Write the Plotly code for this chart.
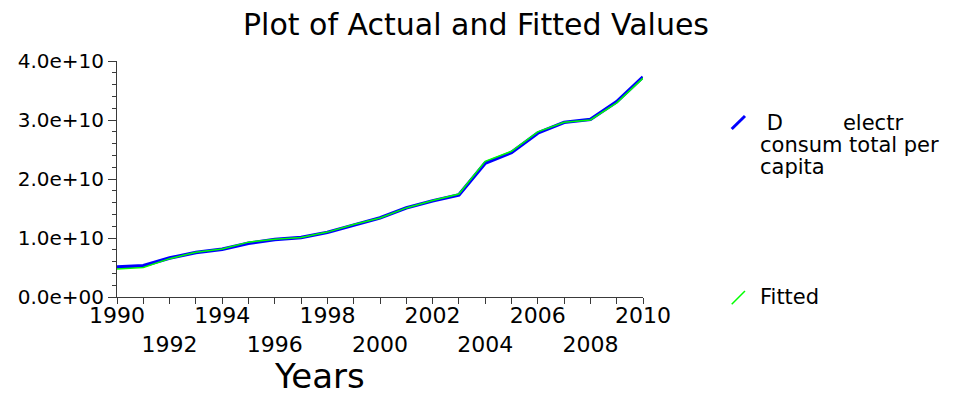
import plotly.graph_objects as go

# ---- data ----
years = list(range(1990, 2011))
actual = [0.51e10, 0.53e10, 0.66e10, 0.755e10, 0.81e10, 0.91e10, 0.975e10, 1.01e10, 1.095e10, 1.225e10,
          1.34e10, 1.51e10, 1.63e10, 1.73e10, 2.27e10, 2.45e10, 2.78e10, 2.96e10, 3.01e10, 3.31e10, 3.73e10]
fitted = [0.475e10, 0.50e10, 0.65e10, 0.76e10, 0.815e10, 0.93e10, 0.98e10, 1.01e10, 1.10e10, 1.23e10,
          1.34e10, 1.51e10, 1.635e10, 1.745e10, 2.30e10, 2.47e10, 2.80e10, 2.96e10, 3.00e10, 3.29e10, 3.71e10]
series_names = ["D electr consum total per capita", "Fitted"]
legend_lines = ["\u00a0D" + "\u00a0" * 9 + "electr", "consum total per", "capita"]
xtick_vals = list(range(1990, 2011, 2))
xtick_text = [str(y) if (y - 1990) % 4 == 0 else "<br>" + str(y) for y in xtick_vals]
ytick_vals = [0, 1e10, 2e10, 3e10, 4e10]
ytick_text = ["0.0e+00", "1.0e+10", "2.0e+10", "3.0e+10", "4.0e+10"]
colors = ["#0000ff", "#00ff00"]

# ---- layout geometry (page body has an 8px margin) ----
OFF = 8
W, H = 958 - OFF, 396 - OFF
ML, MR, MT, MB = 117 - OFF, 315, 61 - OFF, 99
PW, PH = W - ML - MR, H - MT - MB
FONT = "DejaVu Sans"
AX = "#3a3a3a"

def px(x):  # target-picture x pixel -> paper
    return (x - OFF - ML) / PW

def py(y):  # target-picture y pixel -> paper
    return (H - MB - (y - OFF)) / PH

fig = go.Figure()
fig.add_trace(go.Scatter(x=years, y=actual, mode="lines", name=series_names[0],
                         line=dict(color=colors[0], width=3.5), showlegend=False))
fig.add_trace(go.Scatter(x=years, y=fitted, mode="lines", name=series_names[1],
                         line=dict(color=colors[1], width=1.5), showlegend=False))

fig.update_layout(
    width=W, height=H,
    margin=dict(l=ML, r=MR, t=MT, b=MB, pad=0),
    paper_bgcolor="white", plot_bgcolor="white",
    font=dict(family=FONT, color="black"),
    title=dict(text="Plot of Actual and Fitted Values", x=(476 - OFF) / W, xanchor="center",
               y=1 - (24.6 - OFF) / H, yanchor="middle", yref="container", automargin=False,
               font=dict(family=FONT, size=30, color="black")),
    xaxis=dict(range=[1990, 2010], showgrid=False, zeroline=False, automargin=False,
               showline=True, linecolor=AX, linewidth=1,
               tickmode="array", tickvals=xtick_vals, ticktext=xtick_text, tickangle=0,
               ticks="outside", ticklen=6, tickcolor=AX, tickwidth=1, ticklabelstandoff=-7,
               minor=dict(tickmode="linear", tick0=1990, dtick=1, ticks="outside",
                          ticklen=6, tickcolor=AX, tickwidth=1),
               tickfont=dict(family=FONT, size=22, color="black")),
    yaxis=dict(range=[0, 4e10], showgrid=False, zeroline=False, automargin=False,
               showline=True, linecolor=AX, linewidth=1,
               tickmode="array", tickvals=ytick_vals, ticktext=ytick_text,
               ticks="outside", ticklen=8, tickcolor=AX, tickwidth=1,
               minor=dict(tickmode="linear", tick0=0, dtick=0.2e10, ticks="outside",
                          ticklen=4, tickcolor=AX, tickwidth=1),
               tickfont=dict(family=FONT, size=20, color="black")),
    xaxis2=dict(range=[1990, 2010], overlaying="x", anchor="y", side="bottom", automargin=False,
                showgrid=False, zeroline=False, showline=False, showticklabels=False,
                tickmode="linear", tick0=1990, dtick=1, ticks="inside", ticklen=6,
                tickcolor=AX, tickwidth=1),
    yaxis2=dict(range=[0, 4e10], overlaying="y", anchor="x", side="left", automargin=False,
                showgrid=False, zeroline=False, showline=False, showticklabels=False,
                tickmode="linear", tick0=0, dtick=1e10, ticks="inside", ticklen=7,
                tickcolor=AX, tickwidth=1,
                minor=dict(tickmode="linear", tick0=0, dtick=0.2e10, ticks="inside",
                           ticklen=4, tickcolor=AX, tickwidth=1)),
)

# axis title "Years"
fig.add_annotation(text="Years", xref="paper", yref="paper", x=px(319.5), y=py(375.6),
                   xanchor="center", yanchor="middle", showarrow=False,
                   font=dict(family=FONT, size=34, color="black"))

# legend-like labels
leg_font = dict(family=FONT, size=21, color="black")
for txt, yc in zip(legend_lines, [122.6, 145.0, 167.4]):
    fig.add_annotation(text=txt, xref="paper", yref="paper", x=px(758), y=py(yc),
                       xanchor="left", yanchor="middle", showarrow=False, font=leg_font)
fig.add_annotation(text=series_names[1], xref="paper", yref="paper", x=px(758), y=py(297.1),
                   xanchor="left", yanchor="middle", showarrow=False, font=leg_font)

fig.add_shape(type="line", xref="paper", yref="paper", x0=px(731.7), y0=py(129), x1=px(745), y1=py(116),
              line=dict(color=colors[0], width=3))
fig.add_shape(type="line", xref="paper", yref="paper", x0=px(731.7), y0=py(304.3), x1=px(745), y1=py(291),
              line=dict(color=colors[1], width=1.5))

fig.write_html("out.html")
